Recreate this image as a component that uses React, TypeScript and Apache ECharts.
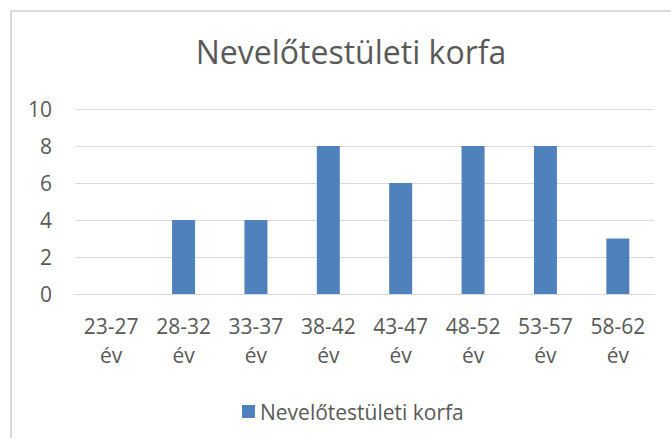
import React, { useEffect, useRef } from "react";
import * as echarts from "echarts";

const categories = ["23-27\név", "28-32\név", "33-37\név", "38-42\név", "43-47\név", "48-52\név", "53-57\név", "58-62\név"];
const values = [0, 4, 4, 8, 6, 8, 8, 3];
const seriesName = "Nevelőtestületi korfa";
const titleText = "Nevelőtestületi korfa";

const FONT = "'Open Sans', 'Noto Sans', sans-serif";
const TEXT = "#595959";

export default function App() {
  const ref = useRef<HTMLDivElement>(null);
  useEffect(() => {
    if (!ref.current) return;
    const chart = echarts.init(ref.current, undefined, { renderer: "svg" });
    chart.setOption({
      animation: false,
      backgroundColor: "#ffffff",
      title: {
        text: titleText,
        left: 346,
        textAlign: "center",
        top: 30,
        textStyle: { fontFamily: FONT, fontSize: 32, fontWeight: "normal", color: TEXT },
      },
      graphic: [
        {
          type: "rect",
          shape: { x: 11, y: 11, width: 720, height: 500 },
          style: { fill: "none", stroke: "#D9D9D9", lineWidth: 2 },
          silent: true,
        },
      ],
      legend: {
        left: 237,
        top: 396,
        itemWidth: 13,
        itemHeight: 13,
        icon: "rect",
        itemGap: 6,
        textStyle: { fontFamily: FONT, fontSize: 21, color: TEXT },
        data: [seriesName],
      },
      grid: { left: 75, right: 17, top: 109, bottom: 144, containLabel: false },
      xAxis: {
        type: "category",
        data: categories,
        axisLine: { show: true, lineStyle: { color: "#D9D9D9", width: 1 } },
        axisTick: { show: false },
        axisLabel: {
          interval: 0,
          margin: 17,
          lineHeight: 29,
          fontFamily: FONT,
          fontSize: 21,
          color: TEXT,
        },
      },
      yAxis: {
        type: "value",
        min: 0,
        max: 10,
        interval: 2,
        axisLine: { show: false },
        axisTick: { show: false },
        splitLine: { lineStyle: { color: "#D9D9D9", width: 1 } },
        axisLabel: { margin: 23, fontFamily: FONT, fontSize: 21, color: TEXT },
      },
      series: [
        {
          name: seriesName,
          type: "bar",
          data: values,
          barWidth: 23,
          itemStyle: { color: "#4F81BD" },
        },
      ],
    });
    return () => chart.dispose();
  }, []);
  return (
    <div
      ref={ref}
      style={{ position: "fixed", left: 0, top: 0, width: 671, height: 438 }}
    />
  );
}
